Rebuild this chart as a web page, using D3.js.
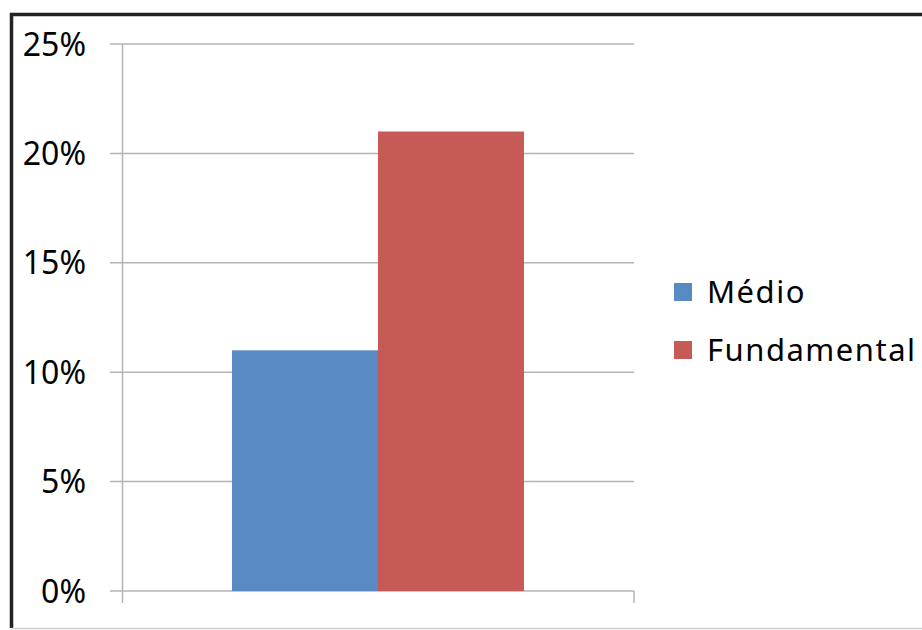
<!DOCTYPE html>
<html>
<head>
<meta charset="utf-8">
<script src="https://cdn.jsdelivr.net/npm/d3@7"></script>
<style>
  body { margin: 0; background: #fff; }
  svg { display: block; font-family: "Noto Sans", "Open Sans", sans-serif; }
</style>
</head>
<body>
<svg id="viz" width="922" height="630"></svg>
<script>
// chart values
var seriesNames = ["Médio", "Fundamental"];
var seriesValues = [0.11, 0.21];
var seriesColors = ["#5a8ac4", "#c55a56"];
var yTicks = [0, 0.05, 0.10, 0.15, 0.20, 0.25];

var svg = d3.select("#viz");

// outer frame: dark left/top edges, pale bottom line
svg.append("path")
    .attr("d", "M11.5,628 L11.5,14.5 L922,14.5")
    .attr("fill", "none")
    .attr("stroke", "#222")
    .attr("stroke-width", 3.5);
svg.append("line")
    .attr("x1", 11).attr("x2", 922)
    .attr("y1", 628.5).attr("y2", 628.5)
    .attr("stroke", "#d0d0d0")
    .attr("stroke-width", 1.5);

var plot = { left: 122.5, right: 634, top: 44, bottom: 591 };

var y = d3.scaleLinear()
    .domain([0, 0.25])
    .range([plot.bottom, plot.top]);

var x = d3.scaleBand()
    .domain(seriesNames)
    .range([232, 524])
    .padding(0);

var grid = "#b4b4b4";

// gridlines + y ticks
var g = svg.append("g");
g.selectAll(".grid")
    .data(yTicks)
    .enter().append("line")
        .attr("class", "grid")
        .attr("x1", 110)
        .attr("x2", plot.right)
        .attr("y1", function(d) { return y(d); })
        .attr("y2", function(d) { return y(d); })
        .attr("stroke", grid)
        .attr("stroke-width", 1.5);

// y axis line
g.append("line")
    .attr("x1", plot.left).attr("x2", plot.left)
    .attr("y1", plot.top).attr("y2", plot.bottom + 12)
    .attr("stroke", grid)
    .attr("stroke-width", 1.5);

// right end tick of category axis
g.append("line")
    .attr("x1", plot.right).attr("x2", plot.right)
    .attr("y1", plot.bottom).attr("y2", plot.bottom + 12)
    .attr("stroke", grid)
    .attr("stroke-width", 1.5);

g.selectAll(".ylab")
    .data(yTicks)
    .enter().append("text")
        .attr("class", "ylab")
        .attr("x", 86)
        .attr("y", function(d) { return y(d); })
        .attr("dy", "0.36em")
        .attr("text-anchor", "end")
        .attr("font-size", 32)
        .attr("fill", "#000")
        .text(function(d) { return d3.format(".0%")(d); });

// bars
svg.selectAll(".bar")
    .data(seriesValues)
    .enter().append("rect")
        .attr("class", "bar")
        .attr("x", function(d, i) { return x(seriesNames[i]); })
        .attr("width", x.bandwidth())
        .attr("y", function(d) { return y(d); })
        .attr("height", function(d) { return y(0) - y(d); })
        .attr("fill", function(d, i) { return seriesColors[i]; });

// legend
var legend = svg.selectAll(".leg")
    .data(seriesNames)
    .enter().append("g")
        .attr("class", "leg")
        .attr("transform", function(d, i) { return "translate(674," + (283 + i * 58) + ")"; });

legend.append("rect")
    .attr("width", 18)
    .attr("height", 18)
    .attr("fill", function(d, i) { return seriesColors[i]; });

legend.append("text")
    .attr("x", 33)
    .attr("y", 9)
    .attr("dy", "0.36em")
    .attr("font-size", 31)
    .attr("letter-spacing", 1.5)
    .attr("fill", "#000")
    .text(function(d) { return d; });
</script>
</body>
</html>
